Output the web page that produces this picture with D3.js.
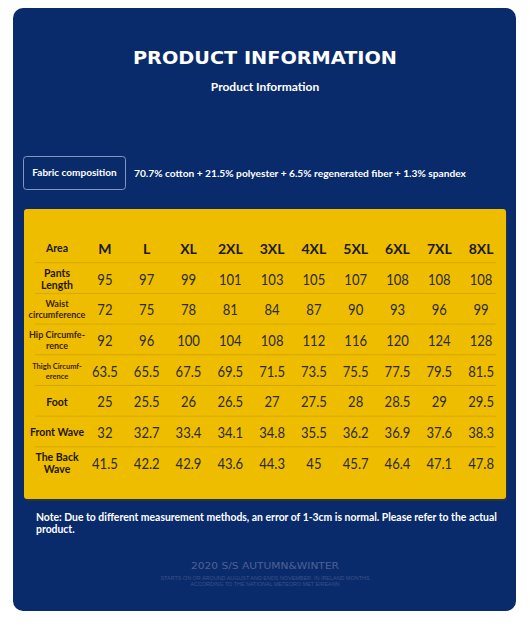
<!DOCTYPE html>
<html>
<head>
<meta charset="utf-8">
<script src="https://cdn.jsdelivr.net/npm/d3@7"></script>
<style>
body { margin: 0; background: #fff; }
svg { display: block; }
</style>
</head>
<body>
<svg width="530" height="631"></svg>
<script>
var sizes = ["M", "L", "XL", "2XL", "3XL", "4XL", "5XL", "6XL", "7XL", "8XL"]
var areas = [
	["Pants", "Length"],
	["Waist", "circumference"],
	["Hip Circumfe-", "rence"],
	["Thigh Circumf-", "erence"],
	["Foot"],
	["Front Wave"],
	["The Back", "Wave"]
]
var pantsLength = [95, 97, 99, 101, 103, 105, 107, 108, 108, 108]
var waist = [72, 75, 78, 81, 84, 87, 90, 93, 96, 99]
var hip = [92, 96, 100, 104, 108, 112, 116, 120, 124, 128]
var thigh = ["63.5", "65.5", "67.5", "69.5", "71.5", "73.5", "75.5", "77.5", "79.5", "81.5"]
var foot = ["25", "25.5", "26", "26.5", "27", "27.5", "28", "28.5", "29", "29.5"]
var frontWave = ["32", "32.7", "33.4", "34.1", "34.8", "35.5", "36.2", "36.9", "37.6", "38.3"]
var backWave = ["41.5", "42.2", "42.9", "43.6", "44.3", "45", "45.7", "46.4", "47.1", "47.8"]
var rows = [pantsLength, waist, hip, thigh, foot, frontWave, backWave]

var font = "Lato, 'Open Sans', sans-serif"
var svg = d3.select("svg")

// blue panel
svg.append("rect").attr("x", 13).attr("y", 8).attr("width", 503).attr("height", 603)
	.attr("rx", 10).attr("fill", "#0a2b6b")

svg.append("text").attr("x", 265).attr("y", 64).attr("text-anchor", "middle")
	.attr("fill", "#fff").attr("font-family", "'DejaVu Sans', sans-serif")
	.attr("font-weight", "bold").attr("font-size", 18.5)
	.attr("textLength", 264).attr("lengthAdjust", "spacingAndGlyphs")
	.text("PRODUCT INFORMATION")
svg.append("text").attr("x", 265).attr("y", 91).attr("text-anchor", "middle")
	.attr("fill", "#fff").attr("font-family", font).attr("font-weight", "bold")
	.attr("font-size", 12).text("Product Information")

// fabric
svg.append("rect").attr("x", 23.5).attr("y", 156.5).attr("width", 102).attr("height", 33)
	.attr("rx", 3).attr("fill", "none").attr("stroke", "#8596bd").attr("stroke-width", 1)
svg.append("text").attr("x", 74.5).attr("y", 176).attr("text-anchor", "middle")
	.attr("fill", "#fff").attr("font-family", font).attr("font-weight", "bold")
	.attr("font-size", 10).text("Fabric composition")
svg.append("text").attr("x", 134).attr("y", 177)
	.attr("fill", "#fff").attr("font-family", font).attr("font-weight", "bold")
	.attr("font-size", 10.2).text("70.7% cotton + 21.5% polyester + 6.5% regenerated fiber + 1.3% spandex")

// yellow table
svg.append("rect").attr("x", 26).attr("y", 211).attr("width", 481).attr("height", 290)
	.attr("rx", 3).attr("fill", "#3a3a30").attr("opacity", 0.6)
svg.append("rect").attr("x", 24).attr("y", 209).attr("width", 482).attr("height", 290)
	.attr("rx", 3).attr("fill", "#efbd00")

var labelX = 57
var x = d3.scaleBand().domain(sizes).range([84, 502])
var y = d3.scaleBand().domain(d3.range(rows.length + 1)).range([231.5, 477])

var table = svg.append("g")
table.selectAll("line.sep").data(d3.range(1, rows.length + 1)).enter().append("line")
	.attr("x1", 35).attr("x2", 496)
	.attr("y1", function(d) { return y(d) + 0.5 }).attr("y2", function(d) { return y(d) + 0.5 })
	.attr("stroke", "#d6a800").attr("stroke-width", 1)

var headY = y(0) + y.bandwidth() / 2 + 7
table.append("text").attr("x", labelX).attr("y", headY - 1.5)
	.attr("text-anchor", "middle").attr("font-family", font).attr("font-weight", "bold")
	.attr("font-size", 10.5).attr("fill", "#1a1a1a").text("Area")
table.selectAll("text.head").data(sizes).enter().append("text")
	.attr("x", function(d) { return x(d) + x.bandwidth() / 2 })
	.attr("y", headY)
	.attr("text-anchor", "middle").attr("font-family", font).attr("font-weight", "bold")
	.attr("font-size", 14).attr("fill", "#1a1a1a").text(function(d) { return d })

areas.forEach(function(lines, r) {
	var cy = y(r + 1) + y.bandwidth() / 2 + 1.5
	var fs = [10.5, 9, 9, 7.5, 10.5, 10.5, 10.5][r]
	var lh = fs + 2
	table.append("g").selectAll("text").data(lines).enter().append("text")
		.attr("x", labelX)
		.attr("y", function(d, i) { return cy + (i - (lines.length - 1) / 2) * lh + fs * 0.36 })
		.attr("text-anchor", "middle").attr("font-family", font).attr("font-weight", "bold")
		.attr("font-size", fs).attr("fill", r == 1 || r == 2 || r == 3 ? "#3b1f00" : "#1e1600")
		.text(function(d) { return d })
	table.append("g").selectAll("text").data(rows[r]).enter().append("text")
		.attr("x", function(d, i) { return x(sizes[i]) + x.bandwidth() / 2 })
		.attr("y", cy + 5.5)
		.attr("text-anchor", "middle").attr("font-family", font)
		.attr("font-size", 14.5).attr("fill", "#2b2b2b")
		.attr("transform", function(d, i) {
			var cx = x(sizes[i]) + x.bandwidth() / 2
			return "translate(" + cx + ",0) scale(0.9,1) translate(" + (-cx) + ",0)"
		})
		.text(function(d) { return d })
})

// note
var note = ["Note: Due to different measurement methods, an error of 1-3cm is normal. Please refer to the actual", "product."]
svg.append("g").selectAll("text").data(note).enter().append("text")
	.attr("x", 36).attr("y", function(d, i) { return 521 + i * 12 })
	.attr("fill", "#fff").attr("font-family", font).attr("font-weight", "bold")
	.attr("font-size", 10.4).text(function(d) { return d })

// footer
svg.append("text").attr("x", 265).attr("y", 569).attr("text-anchor", "middle")
	.attr("fill", "#4f6194").attr("font-family", "'DejaVu Sans', sans-serif")
	.attr("font-size", 8.5)
	.attr("textLength", 148).attr("lengthAdjust", "spacingAndGlyphs")
	.text("2020 S/S AUTUMN&WINTER")
var foot2 = ["STARTS ON OR AROUND AUGUST AND ENDS NOVEMBER. IN IRELAND MONTHS", "ACCORDING TO THE NATIONAL METEORO MET EIREANN"]
var foot2w = [209, 149]
svg.append("g").selectAll("text").data(foot2).enter().append("text")
	.attr("x", 265).attr("y", function(d, i) { return 579.5 + i * 6.5 })
	.attr("text-anchor", "middle").attr("fill", "#3c5088")
	.attr("font-family", "'Liberation Sans', sans-serif").attr("font-size", 5)
	.attr("textLength", function(d, i) { return foot2w[i] }).attr("lengthAdjust", "spacingAndGlyphs")
	.text(function(d) { return d })
</script>
</body>
</html>
